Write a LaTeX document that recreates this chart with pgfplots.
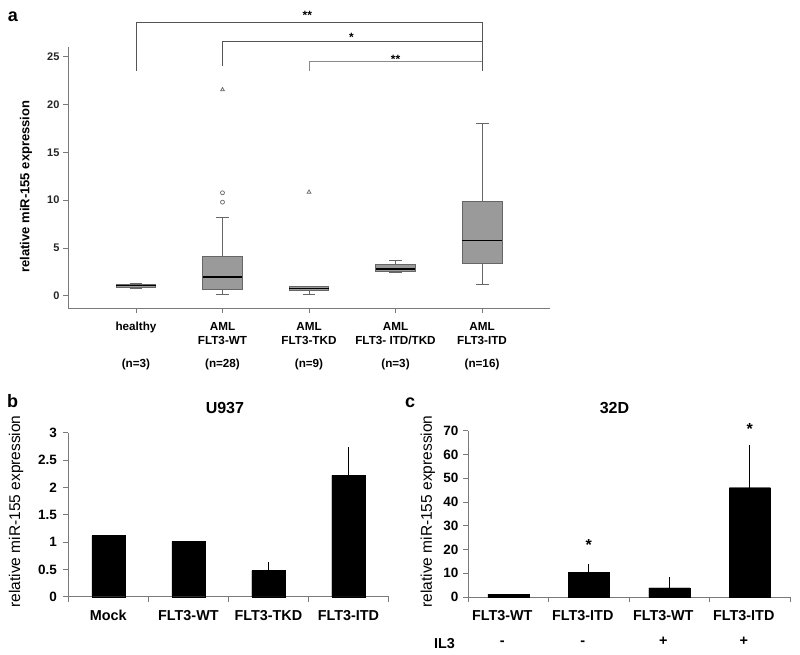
\documentclass[border=0pt]{standalone}
\usepackage{pgfplots}
\pgfplotsset{compat=1.18}
\usepgfplotslibrary{statistics}
\usepackage{fontspec}
\setmainfont{Liberation Sans}
\definecolor{boxgray}{HTML}{9A9A9A}
\definecolor{edgegray}{HTML}{666666}
\definecolor{axgray}{HTML}{7A7A7A}
\definecolor{brgray}{HTML}{555555}
\definecolor{brlight}{HTML}{8A8A8A}
\begin{document}
\begin{tikzpicture}
\useasboundingbox (0,0) rectangle (800pt,-655pt);

% ---------------- panel a ----------------
\begin{axis}[
  at={(68pt,-308pt)}, anchor=south west,
  scale only axis, width=482pt, height=260.7pt,
  xmin=0.214, xmax=5.786, ymin=-1.29, ymax=26,
  axis lines=left, axis line style={axgray, -, line width=0.8pt},
  tick align=outside, major tick length=5pt,
  tick style={axgray, line width=0.8pt},
  xtick={1,2,3,4,5}, ytick={0,5,10,15,20,25},
  xticklabels={{healthy\\~\\[8pt](n=3)},{AML\\FLT3-WT\\[8pt](n=28)},{AML\\FLT3-TKD\\[8pt](n=9)},{AML\\FLT3- ITD/TKD\\[8pt](n=3)},{AML\\FLT3-ITD\\[8pt](n=16)}},
  xticklabel style={align=center, font=\fontsize{11.7}{14.6}\selectfont\bfseries, yshift=-5.5pt},
  yticklabel style={font=\fontsize{11}{13}\selectfont\bfseries, text=black!85},
  /pgf/number format/assume math mode=true,
  ylabel={relative miR-155 expression},
  ylabel style={at={(axis description cs:-0.0871,0.466)}, anchor=center, font=\fontsize{13}{15}\selectfont\bfseries},
  clip=false,
  boxplot/draw direction=y,
  boxplot/box extend=0.46,
  boxplot/whisker extend=0.15,
  boxplot/every box/.style={draw=edgegray, fill=boxgray, line width=0.8pt},
  boxplot/every whisker/.style={edgegray, line width=0.8pt},
  boxplot/every median/.style={black, line width=1.4pt},
]
\addplot[edgegray, boxplot prepared={draw position=1, lower whisker=0.75, lower quartile=0.86, median=1.05, upper quartile=1.17, upper whisker=1.28}] coordinates {};
\addplot[edgegray, boxplot prepared={draw position=2, lower whisker=0.18, lower quartile=0.70, median=1.96, upper quartile=4.16, upper whisker=8.18}] coordinates {};
\addplot[edgegray, boxplot prepared={draw position=3, lower whisker=0.15, lower quartile=0.52, median=0.73, upper quartile=0.94, upper whisker=1.0}] coordinates {};
\addplot[edgegray, boxplot prepared={draw position=4, lower whisker=2.41, lower quartile=2.56, median=2.8, upper quartile=3.25, upper whisker=3.67}] coordinates {};
\addplot[edgegray, boxplot prepared={draw position=5, lower whisker=1.15, lower quartile=3.35, median=5.8, upper quartile=9.9, upper whisker=18.0}] coordinates {};
% outliers
\addplot[only marks, mark=o, mark size=2pt, edgegray, mark options={line width=0.7pt}] coordinates {(2,10.77) (2,9.79)};
\addplot[only marks, mark=triangle, mark size=2.2pt, edgegray, mark options={line width=0.7pt}] coordinates {(2,21.56) (3,10.84)};
% significance brackets
\draw[brgray, line width=0.9pt] (axis cs:1,23.55) |- (axis cs:5,28.58) -- (axis cs:5,23.55);
\draw[brgray, line width=0.9pt] (axis cs:2,24.08) |- (axis cs:5,26.59);
\draw[brlight, line width=0.8pt] (axis cs:3,23.55) |- (axis cs:5,24.53);
\node[font=\fontsize{12}{14}\selectfont\bfseries] at (axis cs:2.98,29.37) {**};
\node[font=\fontsize{12}{14}\selectfont\bfseries] at (axis cs:3.49,27.07) {*};
\node[font=\fontsize{12}{14}\selectfont\bfseries] at (axis cs:4.0,24.76) {**};
\end{axis}

% ---------------- panel b ----------------
\begin{axis}[
  at={(68.3pt,-596.7pt)}, anchor=south west,
  scale only axis, width=320.2pt, height=164pt,
  xmin=0.5, xmax=4.5, ymin=0, ymax=3,
  axis lines=left, axis line style={axgray, -, line width=0.8pt},
  tick align=outside, major tick length=5pt,
  tick style={axgray, line width=0.8pt},
  xtick={0.5,1.5,2.5,3.5,4.5},
  xticklabels={Mock,FLT3-WT,FLT3-TKD,FLT3-ITD},
  x tick label as interval,
  ytick={0,0.5,1,1.5,2,2.5,3},
  xticklabel style={font=\fontsize{14.4}{17}\selectfont\bfseries, yshift=-5pt},
  yticklabel style={font=\fontsize{13.5}{16}\selectfont\bfseries, xshift=-3pt},
  /pgf/number format/assume math mode=true,
  ylabel={relative miR-155 expression},
  ylabel style={at={(axis description cs:-0.1633,0.52)}, anchor=center, font=\fontsize{15.5}{18}\selectfont},
  title={U937},
  title style={at={(axis description cs:0.489,1.114)}, anchor=center, font=\fontsize{16}{19}\selectfont\bfseries},
  clip=false,
]
\addplot[ybar, bar width=33pt, fill=black, draw=black] table[x=x, y=y] {
x y
1 1.116
2 1.013
3 0.476
4 2.22
};
\addplot[ybar, bar width=33pt, fill=black, draw=black,
  error bars/.cd, y dir=plus, y explicit,
  error bar style={black, line width=0.8pt},
  error mark options={black, mark size=3pt, line width=0.8pt}]
  table[x=x, y=y, y error=e] {
x y e
3 0.476 0.10
4 2.22 0.46
};
\end{axis}

% ---------------- panel c ----------------
\begin{axis}[
  at={(468pt,-597pt)}, anchor=south west,
  scale only axis, width=322pt, height=166.3pt,
  xmin=0.5, xmax=4.5, ymin=0, ymax=70,
  axis lines=left, axis line style={axgray, -, line width=0.8pt},
  tick align=outside, major tick length=5pt,
  tick style={axgray, line width=0.8pt},
  xtick={0.5,1.5,2.5,3.5,4.5},
  xticklabels={{FLT3-WT\\[7.7pt]-},{FLT3-ITD\\[7.7pt]-},{FLT3-WT\\[7.7pt]+},{FLT3-ITD\\[7.7pt]+}},
  x tick label as interval,
  ytick={0,10,20,30,40,50,60,70},
  xticklabel style={align=center, font=\fontsize{14.4}{17.3}\selectfont\bfseries, yshift=-5pt, xshift=-6pt},
  yticklabel style={font=\fontsize{13.5}{16}\selectfont\bfseries, xshift=-1pt},
  /pgf/number format/assume math mode=true,
  ylabel={relative miR-155 expression},
  ylabel style={at={(axis description cs:-0.1245,0.514)}, anchor=center, font=\fontsize{15.5}{18}\selectfont},
  title={32D},
  title style={at={(axis description cs:0.455,1.10)}, anchor=center, font=\fontsize{16}{19}\selectfont\bfseries},
  clip=false,
]
\addplot[ybar, bar width=41pt, fill=black, draw=black] table[x=x, y=y] {
x y
1 1.2
2 10.4
3 3.8
4 46.0
};
\addplot[ybar, bar width=41pt, fill=black, draw=black,
  error bars/.cd, y dir=plus, y explicit,
  error bar style={black, line width=0.8pt},
  error mark options={black, mark size=3pt, line width=0.8pt}]
  table[x=x, y=y, y error=e] {
x y e
2 10.4 2.1
3 3.8 3.2
4 46.0 16.7
};
\node[font=\fontsize{16}{19}\selectfont\bfseries] at (axis cs:2,22.1) {*};
\node[font=\fontsize{16}{19}\selectfont\bfseries] at (axis cs:4,70.9) {*};
\end{axis}

% panel letters and IL3 label
\node[font=\fontsize{18}{21}\selectfont\bfseries] at (13pt,-17pt) {a};
\node[font=\fontsize{18}{21}\selectfont\bfseries] at (12.5pt,-401.5pt) {b};
\node[font=\fontsize{18}{21}\selectfont\bfseries] at (410pt,-403pt) {c};
\node[anchor=base, font=\fontsize{14.4}{17}\selectfont\bfseries] at (444.5pt,-648pt) {IL3};
\end{tikzpicture}
\end{document}
